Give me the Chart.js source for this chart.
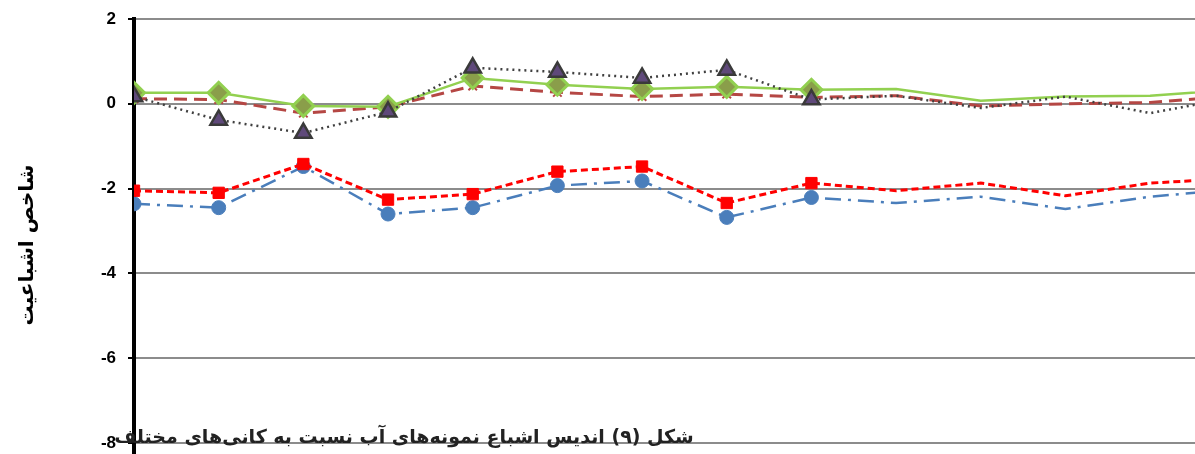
<!DOCTYPE html>
<html><head><meta charset="utf-8">
<script src="https://cdn.jsdelivr.net/npm/chart.js@4/dist/chart.umd.min.js"></script>
<style>
html,body{margin:0;padding:0;background:#fff;overflow:hidden}
#wrap{position:relative;width:1195px;height:454px;overflow:hidden}
#c{position:absolute;left:0;top:0}
#caption{position:absolute;left:104px;top:425px;width:600px;text-align:center;direction:rtl;
 font-family:"DejaVu Sans",sans-serif;font-weight:bold;font-size:19px;color:#222;white-space:nowrap}
</style></head>
<body>
<div id="wrap"><canvas id="c" width="1215" height="474"></canvas>
<div id="caption">شکل (۹) اندیس اشباع نمونه‌های آب نسبت به کانی‌های مختلف</div></div>
<script>
const categories = [1,2,3,4,5,6,7,8,9,10,11,12,13,14];
const tickValues = [2,0,-2,-4,-6,-8];
const yTitle = 'شاخص اشباعیت';
const blackDotted = [0.17,-0.38,-0.69,-0.19,0.85,0.75,0.61,0.80,0.10,0.19,-0.10,0.17,-0.22,0.15];
const greenSolid  = [0.26,0.26,-0.05,-0.07,0.61,0.45,0.35,0.40,0.33,0.35,0.07,0.17,0.19,0.33];
const brownDashed = [0.12,0.10,-0.22,-0.07,0.42,0.27,0.17,0.23,0.15,0.19,-0.05,0.00,0.03,0.19];
const redDashed   = [-2.05,-2.10,-1.42,-2.26,-2.13,-1.60,-1.48,-2.34,-1.87,-2.05,-1.87,-2.17,-1.87,-1.76];
const blueDashDot = [-2.36,-2.45,-1.48,-2.60,-2.45,-1.93,-1.82,-2.68,-2.21,-2.34,-2.19,-2.48,-2.19,-2.02];
const markedPoints = 9;

const pts = arr => arr.map((v,i)=>({x:i, y:v}));
const radii = r => categories.map((c,i)=> i<markedPoints ? r : 0);

const yTitlePlugin = {
  id:'yTitlePlugin',
  afterDraw(chart){
    const ctx = chart.ctx;
    ctx.save();
    ctx.translate(28, 245);
    ctx.rotate(-Math.PI/2);
    ctx.font = 'bold 20px "DejaVu Sans"';
    ctx.fillStyle = '#000';
    ctx.textAlign = 'center';
    ctx.textBaseline = 'middle';
    ctx.direction = 'rtl';
    ctx.fillText(yTitle, 0, 0);
    ctx.restore();
  }
};

new Chart(document.getElementById('c'), {
  type:'line',
  data:{datasets:[
    {data:pts(blackDotted), borderColor:'#404040', borderWidth:2.5, borderDash:[2,4],
     pointStyle:'triangle', pointRadius:radii(9.5), pointBackgroundColor:'#5f497a', pointBorderColor:'#3a3a3a', pointBorderWidth:2.5, tension:0},
    {data:pts(greenSolid), borderColor:'#92d050', borderWidth:2.5,
     pointStyle:'rectRot', pointRadius:radii(10.5), pointBackgroundColor:'#8a9e4a', pointBorderColor:'#92d050', pointBorderWidth:3},
    {data:pts(brownDashed), borderColor:'#b54744', borderWidth:3, borderDash:[13,7],
     pointStyle:'crossRot', pointRadius:radii(6), pointBorderColor:'#b54744', pointBorderWidth:2},
    {data:pts(redDashed), borderColor:'#ff0000', borderWidth:3, borderDash:[7,4],
     pointStyle:'rect', pointRadius:radii(8), pointBackgroundColor:'#ff0000', pointBorderColor:'#ff0000', pointBorderWidth:1},
    {data:pts(blueDashDot), borderColor:'#4a7ebb', borderWidth:2.5, borderDash:[16,7,3,7],
     pointStyle:'circle', pointRadius:radii(7), pointBackgroundColor:'#4a7ebb', pointBorderColor:'#4a7ebb', pointBorderWidth:1}
  ]},
  options:{
    responsive:false, animation:false, devicePixelRatio:1,
    layout:{padding:{top:19,right:20,bottom:20,left:0}},
    plugins:{legend:{display:false}, tooltip:{enabled:false}},
    scales:{
      x:{type:'linear', min:0, max:12.53, display:false},
      y:{min:-8.26, max:2,
         afterBuildTicks: s => { s.ticks = tickValues.map(v=>({value:v})); },
         afterFit: s => { s.width = 134; s.paddingTop = 0; s.paddingBottom = 0; },
         ticks:{color:'#000', font:{family:'Liberation Sans', weight:'bold', size:17}, padding:12},
         grid:{color:'#8c8c8c', lineWidth:2, tickLength:6, tickColor:'#000', tickWidth:2},
         border:{display:true, color:'#000', width:4},
         title:{display:false}
      }
    }
  },
  plugins:[yTitlePlugin]
});
</script>
</body></html>
